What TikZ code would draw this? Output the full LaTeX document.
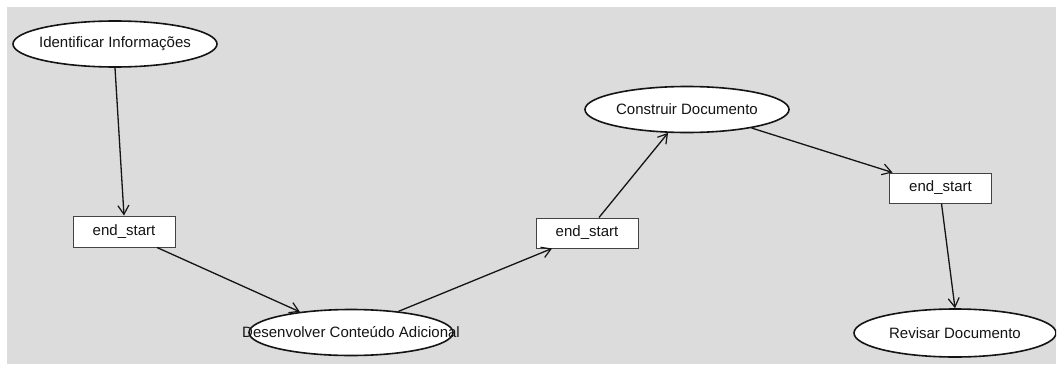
\documentclass[tikz,border=0pt]{standalone}
\usepackage{fontspec}
\setmainfont{Liberation Sans}
\usetikzlibrary{shapes.geometric,arrows.meta}
\definecolor{canvas}{RGB}{220,220,220}
\definecolor{ink}{RGB}{20,20,20}
\tikzset{
  activity/.style={ellipse, draw=ink, line width=1.6pt, fill=white, inner sep=0pt,
    minimum width=204pt, minimum height=46pt, font=\fontsize{15}{18}\selectfont, text=ink},
  joinbox/.style={rectangle, draw=ink!80, line width=1pt, fill=white, inner sep=0pt,
    minimum width=102pt, minimum height=31pt, font=\fontsize{15}{18}\selectfont, text=ink},
  flow/.style={draw=ink, line width=1.3pt, -{Straight Barb[length=9pt,width=11pt,line width=1.2pt]}}
}
\begin{document}
\begin{tikzpicture}[x=1pt,y=-1pt]
  \useasboundingbox (0,0) rectangle (1057,364);
  \fill[white] (0,0) rectangle (1057,364);
  \fill[canvas] (7,7) rectangle (1056,364);
  \begin{scope}
  \clip (7,7) rectangle (1056,364);
  % activities
  \node[activity] (e1) at (115,44)    {\makebox[0pt]{Identificar Informações}};
  \node[activity] (e2) at (351,332.5) {\makebox[0pt]{Desenvolver Conteúdo Adicional}};
  \node[activity] (e3) at (687,109.5) {\makebox[0pt]{Construir Documento}};
  \node[activity, minimum width=202pt, minimum height=48pt] (e4) at (955,333) {\makebox[0pt]{Revisar Documento}};
  % synchronisation boxes
  \node[joinbox] (b1) at (124,231.5) {end\_start};
  \node[joinbox, minimum height=30pt] (b2) at (587,233) {end\_start};
  \node[joinbox, minimum height=30pt] (b3) at (940.5,188) {end\_start};
  % transitions
  \draw[flow] (e1.south) -- (b1.north);
  \draw[flow] ([xshift=33pt]b1.south) -- (e2.158);
  \draw[flow] (e2.24) -- ([xshift=-35pt]b2.south);
  \draw[flow] ([xshift=12pt]b2.north) -- (e3.231);
  \draw[flow] (e3.-16) -- ([xshift=-48pt]b3.north);
  \draw[flow] ([xshift=1pt]b3.south) -- (e4.north);
  \end{scope}
\end{tikzpicture}
\end{document}
